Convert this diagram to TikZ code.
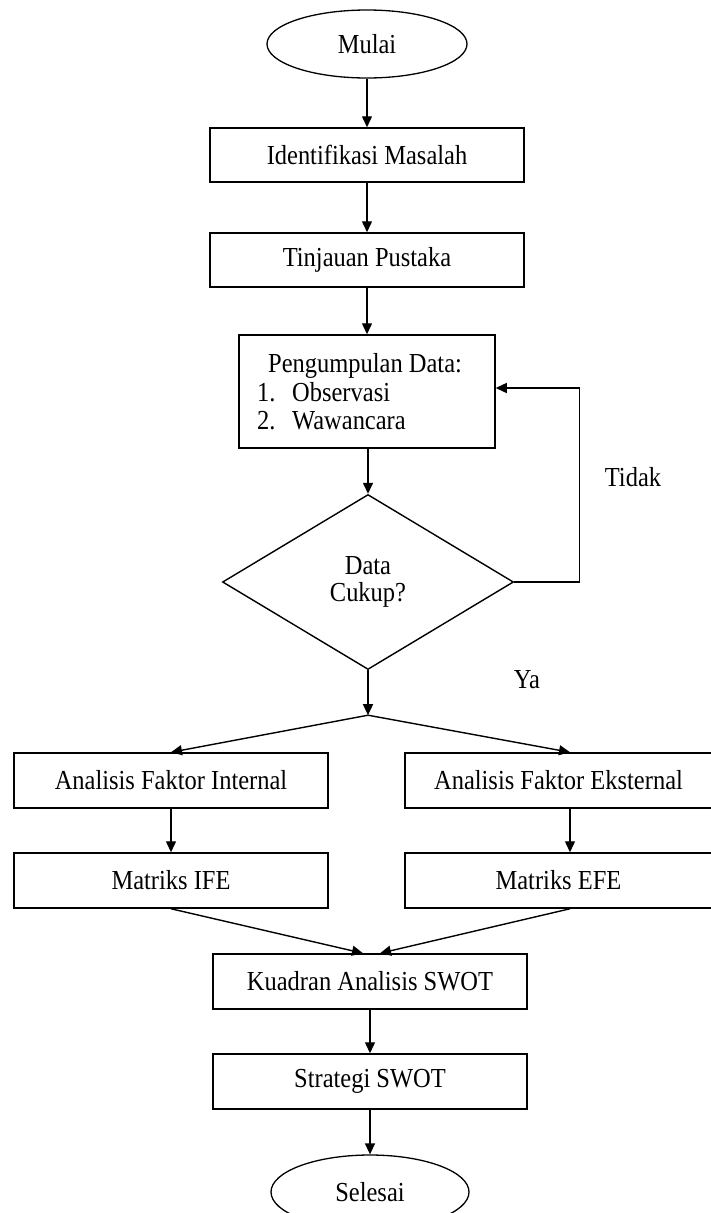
\documentclass[tikz,border=0pt]{standalone}
\usepackage{fontspec}
\setmainfont[FakeStretch=0.89]{Liberation Serif}
\usetikzlibrary{shapes.geometric,arrows.meta}
\begin{document}
\begin{tikzpicture}[x=1pt,y=-1pt,
  every node/.style={font=\fontsize{27.5}{28.5}\selectfont},
  box/.style={draw,line width=1.5pt,rectangle,minimum width=314pt,minimum height=55pt,inner sep=0pt},
  term/.style={draw,line width=1.3pt,ellipse,inner sep=0pt},
  arr/.style={line width=1.4pt,-{Triangle[width=10pt,length=11pt]}},
  lbl/.style={inner sep=0pt}]
\useasboundingbox (0,0) rectangle (710,1213);
\node[term,minimum width=200pt,minimum height=68pt] (mulai) at (367,44) {Mulai};
\node[box,minimum height=54pt] (ident) at (367,155) {Identifikasi Masalah};
\node[box,minimum height=54pt] (tinj) at (367,260) {Tinjauan Pustaka};
\node[box,minimum width=256pt,minimum height=113pt] (pen) at (367,391.5) {};
\node[lbl,anchor=west,align=left] (pentext) at (257,392) {\hspace*{11pt}Pengumpulan Data:\\\makebox[35pt][l]{1.}Observasi\\\makebox[35pt][l]{2.}Wawancara};
\node[draw,diamond,line width=1.4pt,minimum width=291pt,minimum height=175pt,inner sep=0pt,align=center,font=\fontsize{27.5}{27}\selectfont] (dec) at (368,582) {Data\\Cukup?};
\node[box] (afi) at (171,780.5) {Analisis Faktor Internal};
\node[box,minimum width=307pt] (afe) at (558.5,780.5) {Analisis Faktor Eksternal};
\node[box] (mife) at (171,880.5) {Matriks IFE};
\node[box,minimum width=307pt] (mefe) at (558.5,880.5) {Matriks EFE};
\node[box] (kuad) at (370,981.5) {Kuadran Analisis SWOT};
\node[box] (strat) at (370,1081.5) {Strategi SWOT};
\node[term,minimum width=198pt,minimum height=74pt] (sel) at (370,1192) {Selesai};
\node[lbl] (tidak) at (633,477) {Tidak};
\node[lbl] (ya) at (527,680) {Ya};

\draw[arr] (mulai) -- (ident);
\draw[arr] (ident) -- (tinj);
\draw[arr] (tinj) -- (pen);
\draw[arr] (pen.south -| dec.north) -- (dec.north);
\draw[arr] (dec.south) -- ++(0,45) coordinate (split);
\draw[arr] (split) -- (afi.north);
\draw[arr] (split) -- ([xshift=11.5pt]afe.north);
\draw[arr] (afi) -- (mife);
\draw[arr] ([xshift=11.5pt]afe.south) -- ([xshift=11.5pt]mefe.north);
\draw[arr] (mife.south) -- ([xshift=-7pt]kuad.north);
\draw[arr] ([xshift=11.5pt]mefe.south) -- ([xshift=10pt]kuad.north);
\draw[arr] (kuad) -- (strat);
\draw[arr] (strat) -- (sel);
\draw[arr] (dec.east) -- ++(65,0) |- ([yshift=3.5pt]pen.east);
\end{tikzpicture}
\end{document}
